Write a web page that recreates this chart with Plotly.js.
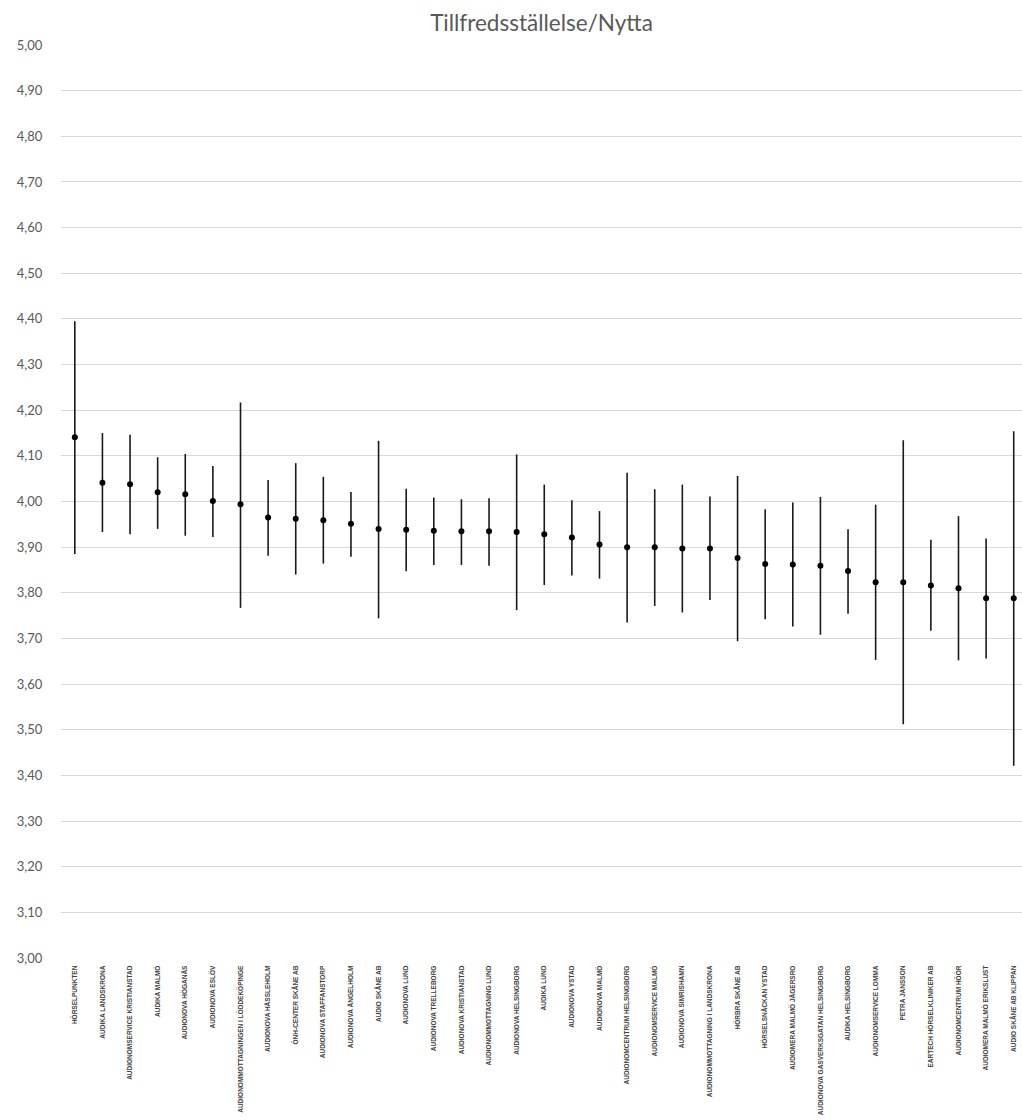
<!DOCTYPE html>
<html>
<head>
<meta charset="utf-8">
<script src="https://cdn.plot.ly/plotly-3.0.1.min.js"></script>
<style>html,body{margin:0;padding:0;background:#fff;}#chart{width:1022px;height:1120px;}</style>
</head>
<body>
<div id="chart"></div>
<script>
const categories = [
  "HÖRSELPUNKTEN",
  "AUDIKA LANDSKRONA",
  "AUDIONOMSERVICE KRISTIANSTAD",
  "AUDIKA MALMÖ",
  "AUDIONOVA HÖGANÄS",
  "AUDIONOVA ESLÖV",
  "AUDIONOMMOTTAGNINGEN I LÖDDEKÖPINGE",
  "AUDIONOVA HÄSSLEHOLM",
  "ÖNH-CENTER SKÅNE AB",
  "AUDIONOVA STAFFANSTORP",
  "AUDIONOVA ÄNGELHOLM",
  "AUDIO SKÅNE AB",
  "AUDIONOVA LUND",
  "AUDIONOVA TRELLEBORG",
  "AUDIONOVA KRISTIANSTAD",
  "AUDIONOMMOTTAGNING LUND",
  "AUDIONOVA HELSINGBORG",
  "AUDIKA LUND",
  "AUDIONOVA YSTAD",
  "AUDIONOVA MALMÖ",
  "AUDIONOMCENTRUM HELSINGBORG",
  "AUDIONOMSERVICE MALMÖ",
  "AUDIONOVA SIMRISHAMN",
  "AUDIONOMMOTTAGNING I LANDSKRONA",
  "HÖRBRA SKÅNE AB",
  "HÖRSELSNÄCKAN YSTAD",
  "AUDIOMERA MALMÖ JÄGERSRO",
  "AUDIONOVA GASVERKSGATAN HELSINGBORG",
  "AUDIKA HELSINGBORG",
  "AUDIONOMSERVICE LOMMA",
  "PETRA JANSSON",
  "EARTECH HÖRSELKLINIKER AB",
  "AUDIONOMCENTRUM HÖÖR",
  "AUDIOMERA MALMÖ ERIKSLUST",
  "AUDIO SKÅNE AB KLIPPAN"
];

const meanValues = [
  4.141, 4.041, 4.038, 4.020, 4.016, 4.001, 3.994, 3.965, 3.962, 3.959,
  3.951, 3.940, 3.938, 3.936, 3.935, 3.935, 3.933, 3.928, 3.921, 3.906,
  3.900, 3.900, 3.897, 3.897, 3.876, 3.863, 3.862, 3.859, 3.848, 3.823,
  3.823, 3.816, 3.810, 3.788, 3.788
];

const highValues = [
  4.395, 4.150, 4.146, 4.097, 4.104, 4.078, 4.217, 4.047, 4.084, 4.054,
  4.021, 4.133, 4.028, 4.009, 4.005, 4.007, 4.103, 4.037, 4.003, 3.979,
  4.063, 4.027, 4.037, 4.011, 4.056, 3.983, 3.998, 4.010, 3.939, 3.993,
  4.134, 3.916, 3.968, 3.919, 4.154
];

const lowValues = [
  3.885, 3.933, 3.928, 3.940, 3.925, 3.922, 3.767, 3.881, 3.840, 3.864,
  3.879, 3.744, 3.847, 3.861, 3.861, 3.859, 3.762, 3.817, 3.838, 3.831,
  3.735, 3.771, 3.757, 3.784, 3.694, 3.742, 3.726, 3.708, 3.754, 3.653,
  3.512, 3.717, 3.652, 3.656, 3.421
];

const yTickValues = [3.0, 3.1, 3.2, 3.3, 3.4, 3.5, 3.6, 3.7, 3.8, 3.9, 4.0, 4.1, 4.2, 4.3, 4.4, 4.5, 4.6, 4.7, 4.8, 4.9, 5.0];

const plus = meanValues.map((m, i) => highValues[i] - m);
const minus = meanValues.map((m, i) => m - lowValues[i]);

const trace = {
  type: 'scatter',
  mode: 'markers',
  x: categories,
  y: meanValues,
  marker: {color: '#000000', size: 6},
  error_y: {
    type: 'data',
    symmetric: false,
    array: plus,
    arrayminus: minus,
    width: 0,
    thickness: 1.6,
    color: '#1a1a1a'
  },
  cliponaxis: false,
  hoverinfo: 'x+y'
};

const layout = {
  width: 1022,
  height: 1120,
  margin: {l: 61, r: 0, t: 45, b: 162},
  paper_bgcolor: '#ffffff',
  plot_bgcolor: '#ffffff',
  separators: ',.',
  showlegend: false,
  title: {
    text: 'Tillfredsställelse/Nytta',
    font: {family: 'Lato, "Open Sans", sans-serif', size: 22.5, color: '#595959'},
    x: 0.5, xref: 'paper', xanchor: 'center',
    y: 0.979, yref: 'container', yanchor: 'middle'
  },
  xaxis: {
    type: 'category',
    range: [-0.5, 34.3],
    tickangle: -90,
    tickfont: {family: '"Liberation Sans", Arial, sans-serif', size: 6.5, color: '#404040', weight: 'bold'},
    showgrid: false,
    zeroline: false,
    showline: false,
    ticks: 'outside',
    ticklen: 4,
    tickcolor: 'rgba(0,0,0,0)',
    automargin: false,
    fixedrange: true
  },
  yaxis: {
    range: [3, 5],
    tickvals: yTickValues,
    tickformat: '.2f',
    tickfont: {family: 'Lato, "Open Sans", sans-serif', size: 13, color: '#595959'},
    showgrid: true,
    gridcolor: '#d9d9d9',
    gridwidth: 1,
    zeroline: false,
    showline: false,
    ticks: 'outside',
    ticklen: 15,
    tickcolor: 'rgba(0,0,0,0)',
    automargin: false,
    fixedrange: true
  }
};

Plotly.newPlot('chart', [trace], layout, {displayModeBar: false, staticPlot: true});
</script>
</body>
</html>
